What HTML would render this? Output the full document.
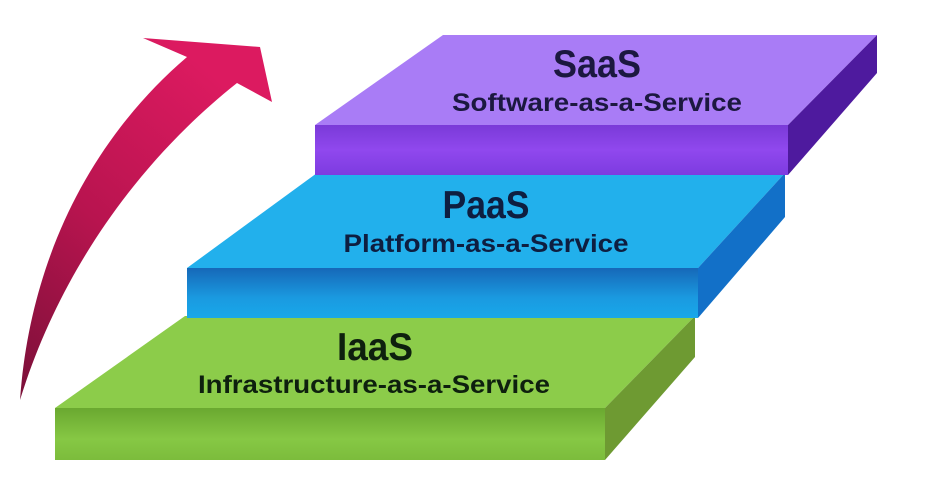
<!DOCTYPE html>
<html><head><meta charset="utf-8"><style>
html,body{margin:0;padding:0;background:#fff;}
svg{display:block;}
text{font-family:"Liberation Sans Narrow","Liberation Sans",sans-serif;font-weight:bold;}
</style></head><body>
<svg width="929" height="486" viewBox="0 0 929 486" xmlns="http://www.w3.org/2000/svg">
<defs>
<linearGradient id="arr" x1="0" y1="1" x2="0.6" y2="0">
<stop offset="0" stop-color="#7a1038"/><stop offset="0.5" stop-color="#b8144f"/><stop offset="1" stop-color="#dc1a60"/>
</linearGradient>
<linearGradient id="pf" x1="0" y1="0" x2="0" y2="1">
<stop offset="0" stop-color="#7a3ad8"/><stop offset="0.5" stop-color="#9048ee"/><stop offset="1" stop-color="#7d3be0"/>
</linearGradient>
<linearGradient id="bf" x1="0" y1="0" x2="0" y2="1">
<stop offset="0" stop-color="#1668b8"/><stop offset="0.6" stop-color="#1a9ae0"/><stop offset="1" stop-color="#18a8ea"/>
</linearGradient>
<linearGradient id="gf" x1="0" y1="0" x2="0" y2="1">
<stop offset="0" stop-color="#6aa830"/><stop offset="0.6" stop-color="#86c844"/><stop offset="1" stop-color="#7cbc3c"/>
</linearGradient>
</defs>
<!-- arrow -->
<path d="M20,400 C30,260 90,140 187,57 L143,38 L260,47 L272,102 L237,83 C140,160 60,270 20,400 Z" fill="url(#arr)"/>
<!-- IaaS -->
<polygon points="185,316 695,316 605,408 55,408" fill="#8ccc4a"/>
<rect x="55" y="408" width="550" height="52" fill="url(#gf)"/>
<polygon points="695,316 695,357 605,460 605,408" fill="#6e9a32"/>
<!-- PaaS -->
<polygon points="317,173 785,173 698,268 187,268" fill="#22b0ec"/>
<rect x="187" y="268" width="511" height="50" fill="url(#bf)"/>
<polygon points="785,173 785,217 698,318 698,268" fill="#1270c8"/>
<!-- SaaS -->
<polygon points="443,35 877,35 788,125 315,125" fill="#a97cf6"/>
<rect x="315" y="125" width="473" height="50" fill="url(#pf)"/>
<polygon points="877,35 877,73 788,175 788,125" fill="#4e1a9e"/>
<!-- text -->
<text x="597" y="77" font-size="39" text-anchor="middle" fill="#1c1840" textLength="88" lengthAdjust="spacingAndGlyphs">SaaS</text>
<text x="597" y="111" font-size="25" text-anchor="middle" fill="#1c1840" textLength="290" lengthAdjust="spacingAndGlyphs">Software-as-a-Service</text>
<text x="486" y="218" font-size="39" text-anchor="middle" fill="#0e1e40" textLength="87" lengthAdjust="spacingAndGlyphs">PaaS</text>
<text x="486" y="252" font-size="25" text-anchor="middle" fill="#0e1e40" textLength="285" lengthAdjust="spacingAndGlyphs">Platform-as-a-Service</text>
<text x="375" y="360" font-size="39" text-anchor="middle" fill="#0e200e" textLength="76" lengthAdjust="spacingAndGlyphs">IaaS</text>
<text x="374" y="393" font-size="25" text-anchor="middle" fill="#0e200e" textLength="352" lengthAdjust="spacingAndGlyphs">Infrastructure-as-a-Service</text>
</svg>
</body></html>
